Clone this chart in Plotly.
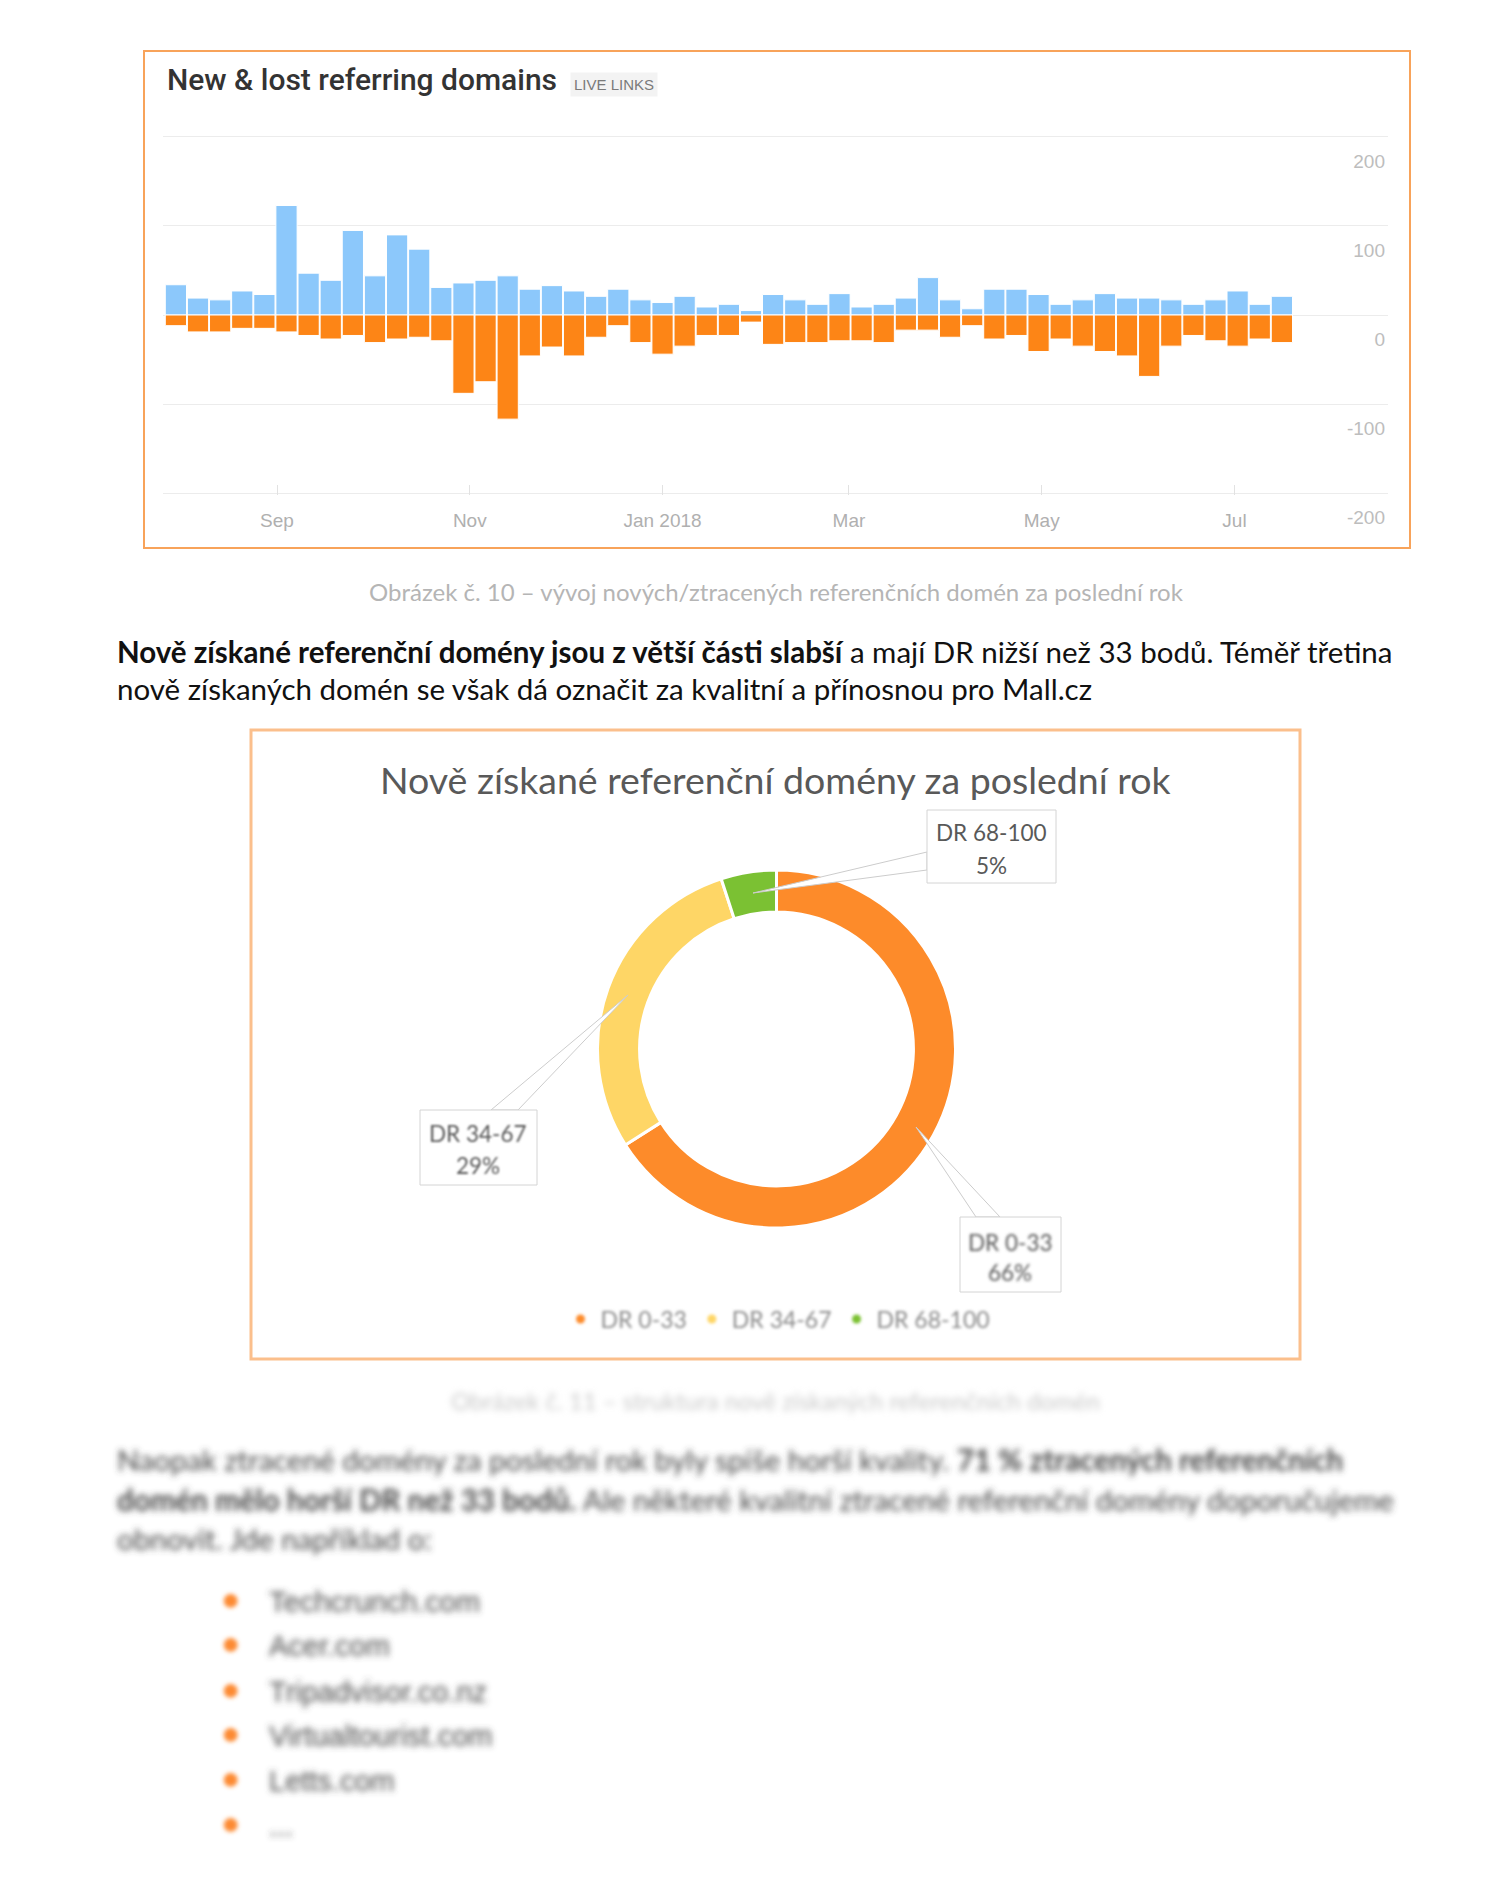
import plotly.graph_objects as go
import pandas as pd

W, H = 1506, 1880

# ---------------- data ----------------
week_start = pd.date_range("2017-07-31", periods=51, freq="7D")
new_domains = [34, 19, 17, 27, 23, 123, 47, 39, 95, 44, 90, 74, 31, 36, 39, 44, 29, 33,
               27, 21, 29, 17, 14, 21, 9, 12, 5,
               23, 17, 12, 24, 9, 12, 19, 42, 17, 7, 29, 29, 23, 12, 17, 24, 19, 19,
               17, 12, 17, 27, 12, 21]
lost_domains = [-12, -19, -19, -15, -15, -19, -23, -27, -23, -31, -27, -25, -29, -88, -75,
                -117, -46, -36, -46, -25, -12, -31, -44, -35, -23, -23, -8,
                -33, -31, -31, -29, -29, -31, -17, -17, -25, -12, -27, -23, -41, -27,
                -35, -41, -46, -69, -35, -23, -29, -35, -27, -31]

month_ticks = ["2017-09-01", "2017-11-01", "2018-01-01", "2018-03-01", "2018-05-01", "2018-07-01"]
month_labels = ["Sep", "Nov", "Jan 2018", "Mar", "May", "Jul"]
y_ticks = [-200, -100, 0, 100, 200]
y_tick_labels = ["-200", "-100", "0", "100", "200"]

dr_labels = ["DR 0-33", "DR 34-67", "DR 68-100"]
dr_shares = [66, 29, 5]
dr_colors = ["#fd8b2a", "#fed666", "#7bc133"]

lost_examples = ["Techcrunch.com", "Acer.com", "Tripadvisor.co.nz", "Virtualtourist.com", "Letts.com", "..."]

# ---------------- helpers ----------------
def px(x):
    return x / W


def py(y):
    return 1 - y / H


DOC_FONT = "Lato, 'Noto Sans', sans-serif"
AH_FONT = "'Liberation Sans', Arial, sans-serif"

fig = go.Figure()

# ---------------- bar chart ----------------
fig.add_trace(go.Bar(x=week_start, y=new_domains, name="New",
                     marker=dict(color="#8cc8fb", line=dict(color="white", width=1)),
                     xaxis="x", yaxis="y", showlegend=False, hoverinfo="x+y"))
fig.add_trace(go.Bar(x=week_start, y=lost_domains, name="Lost",
                     marker=dict(color="#fd8516", line=dict(color="white", width=1)),
                     xaxis="x", yaxis="y", showlegend=False, hoverinfo="x+y"))

# ---------------- donut ----------------
cx, cy, r = 776.5, 1049, 179
fig.add_trace(go.Pie(values=dr_shares, labels=dr_labels, sort=False, direction="clockwise",
                     rotation=0, hole=0.765, textinfo="none", showlegend=False,
                     marker=dict(colors=dr_colors, line=dict(color="white", width=3)),
                     domain=dict(x=[px(cx - r), px(cx + r)], y=[py(cy + r), py(cy - r)])))

# legend proxies (round dots like the original)
for lab, col in zip(dr_labels, dr_colors):
    fig.add_trace(go.Scatter(x=[None], y=[None], mode="markers", name=lab,
                             marker=dict(color=col, size=9, symbol="circle"),
                             xaxis="x2", yaxis="y2", showlegend=True))

annotations = []
blur_idx = {}


def ann(blur=None, **kw):
    base = dict(xref="paper", yref="paper", showarrow=False)
    base.update(kw)
    annotations.append(base)
    if blur:
        blur_idx[len(annotations) - 1] = blur


# Chart 1 title and badge
ann(x=px(165), y=py(80), xanchor="left", yanchor="middle",
    text="New & lost referring domains",
    font=dict(family="Roboto, " + AH_FONT, size=30, color="#333333", weight=500))
ann(x=px(614), y=py(84), xanchor="center", yanchor="middle", text="LIVE LINKS",
    bgcolor="#f3f3f3", borderpad=3, font=dict(family=AH_FONT, size=15, color="#7a7a7a"))

# caption 1
ann(x=px(776), y=py(591), xanchor="center", yanchor="middle",
    text="Obrázek č. 10 – vývoj nových/ztracených referenčních domén za poslední rok",
    font=dict(family=DOC_FONT, size=24, color="#b5b5b5"))

# paragraph
ann(x=px(115), y=py(651), xanchor="left", yanchor="middle",
    text="<b>Nově získané referenční domény jsou z větší části slabší</b> a mají DR nižší než 33 bodů. Téměř třetina",
    font=dict(family=DOC_FONT, size=29.5, color="#111111"))
ann(x=px(115), y=py(688), xanchor="left", yanchor="middle",
    text="nově získaných domén se však dá označit za kvalitní a přínosnou pro Mall.cz",
    font=dict(family=DOC_FONT, size=29.5, color="#111111"))

# donut title
ann(x=px(775), y=py(779), xanchor="center", yanchor="middle",
    text="Nově získané referenční domény za poslední rok",
    font=dict(family=DOC_FONT, size=37.5, color="#595959"))

# callout labels
callouts = [
    # text lines, box (x0,y0,x1,y1), tip, base points, text x, line ys, blur
    (dr_labels[2], "5%", (927, 810, 1056, 883), (753, 893), [(927, 852), (927, 870)], 991, (832, 865), None),
    (dr_labels[1], "29%", (420, 1110, 537, 1185), (628, 995), [(491, 1110), (518, 1110)], 478, (1133, 1165), 1.2),
    (dr_labels[0], "66%", (960, 1217, 1061, 1292), (916, 1127), [(976, 1217), (1000, 1217)], 1010, (1242, 1272), 1.6),
]
shapes = []
for name, pct, box, tip, base, tx, lys, bl in callouts:
    p = "M {},{} L {},{} L {},{} Z".format(px(base[0][0]), py(base[0][1]), px(tip[0]), py(tip[1]),
                                            px(base[1][0]), py(base[1][1]))
    shapes.append(dict(type="path", xref="paper", yref="paper", path=p,
                       fillcolor="white", line=dict(color="#cccccc", width=1), layer="above"))
    shapes.append(dict(type="rect", xref="paper", yref="paper", x0=px(box[0]), x1=px(box[2]),
                       y0=py(box[3]), y1=py(box[1]), fillcolor="white",
                       line=dict(color="#d4d4d4", width=1), layer="above"))
    ann(blur=bl, x=px(tx), y=py(lys[0]), xanchor="center", yanchor="middle", text=name,
        font=dict(family=DOC_FONT, size=22.5, color="#595959"))
    ann(blur=bl, x=px(tx), y=py(lys[1]), xanchor="center", yanchor="middle", text=pct,
        font=dict(family=DOC_FONT, size=22.5, color="#595959"))

# chart borders
shapes.append(dict(type="rect", xref="paper", yref="paper", x0=px(144), x1=px(1410),
                   y0=py(548), y1=py(51), line=dict(color="#f8a35a", width=2), layer="above"))
shapes.append(dict(type="rect", xref="paper", yref="paper", x0=px(251), x1=px(1300),
                   y0=py(1359), y1=py(730), line=dict(color="#fbbf8c", width=3), layer="above"))

# caption 2 (faint)
ann(blur=3, x=px(775), y=py(1400), xanchor="center", yanchor="middle",
    text="Obrázek č. 11 – struktura nově získaných referenčních domén",
    font=dict(family=DOC_FONT, size=24, color="#c8c8c8"))

# blurred paragraph
para_lines = [
    "Naopak ztracené domény za poslední rok byly spíše horší kvality. <b>71 % ztracených referenčních</b>",
    "<b>domén mělo horší DR než 33 bodů.</b> Ale některé kvalitní ztracené referenční domény doporučujeme",
    "obnovit. Jde například o:",
]
for ln, yy in zip(para_lines, [1459, 1499, 1538]):
    ann(blur=3.2, x=px(115), y=py(yy), xanchor="left", yanchor="middle", text=ln,
        font=dict(family=DOC_FONT, size=29.5, color="#454545"))

# bullets
for item, yy in zip(lost_examples, [1599, 1643, 1689, 1733, 1778, 1823]):
    ann(blur=2.2, x=px(230), y=py(yy), xanchor="center", yanchor="middle", text="●",
        font=dict(family=AH_FONT, size=32, color="#fd8a30"))
    ann(blur=3.2, x=px(267), y=py(yy + 3), xanchor="left", yanchor="middle", text=item,
        font=dict(family=AH_FONT, size=29, color="#4a4a4a"))

fig.update_layout(
    width=W, height=H, margin=dict(l=0, r=0, t=0, b=0, autoexpand=False),
    paper_bgcolor="white", plot_bgcolor="white",
    barmode="relative", bargap=0.04,
    xaxis=dict(type="date", domain=[px(163), px(1388)],
               range=["2017-07-26 22:00", "2018-08-18 14:00"],
               tickvals=month_ticks, ticktext=month_labels,
               ticks="inside", ticklen=10, tickcolor="#e2e2e2", tickwidth=1,
               showgrid=False, zeroline=False, showline=False, automargin=False,
               ticklabelstandoff=12,
               tickfont=dict(family=AH_FONT, size=19, color="#b0b0b0"), anchor="y"),
    yaxis=dict(domain=[py(494.8), py(135.2)], range=[-202, 202], side="right",
               ticklabelposition="inside", tickvals=y_ticks, ticktext=y_tick_labels,
               ticklabelshift=24, ticklabeloverflow="allow", automargin=False,
               gridcolor="#ececec", gridwidth=1, zeroline=False, showline=False,
               tickfont=dict(family=AH_FONT, size=19, color="#bdbdbd"), anchor="x"),
    xaxis2=dict(domain=[0, 0.001], visible=False, anchor="y2"),
    yaxis2=dict(domain=[0, 0.001], visible=False, anchor="x2"),
    legend=dict(orientation="h", x=px(778), xanchor="center", y=py(1319), yanchor="middle",
                font=dict(family=DOC_FONT, size=23, color="#8a8a8a"), bgcolor="rgba(0,0,0,0)",
                itemwidth=30, tracegroupgap=0),
    annotations=annotations, shapes=shapes,
)

blur_js = ",".join("[{},{}]".format(k, v) for k, v in blur_idx.items())
post = """
(function(){
  document.body.style.margin='0';
  document.documentElement.style.overflow='hidden';
  var ns='http://www.w3.org/2000/svg';
  var holder=document.createElementNS(ns,'svg');
  holder.setAttribute('width','0');holder.setAttribute('height','0');
  holder.style.position='absolute';holder.style.left='0';holder.style.top='0';
  var defs=document.createElementNS(ns,'defs');
  holder.appendChild(defs);
  document.body.appendChild(holder);
  function filt(sd){
    var id='blurf'+String(sd).replace('.','_');
    if(document.getElementById(id)) return id;
    var f=document.createElementNS(ns,'filter');
    f.setAttribute('id',id);f.setAttribute('x','-30%');f.setAttribute('y','-80%');
    f.setAttribute('width','160%');f.setAttribute('height','260%');
    var g=document.createElementNS(ns,'feGaussianBlur');
    g.setAttribute('stdDeviation',sd);
    f.appendChild(g);defs.appendChild(f);return id;
  }
  var list=[__LIST__];
  var gd=document.getElementById('{plot_id}');
  list.forEach(function(p){
    var el=gd.querySelector('g.annotation[data-index="'+p[0]+'"]');
    if(el){el.setAttribute('filter','url(#'+filt(p[1])+')');}
  });
  var lg=gd.querySelector('g.legend');
  if(lg){lg.setAttribute('filter','url(#'+filt(1.6)+')');}
})();
""".replace("__LIST__", blur_js)

fig.write_html("out.html", post_script=post, config={"displayModeBar": False})
